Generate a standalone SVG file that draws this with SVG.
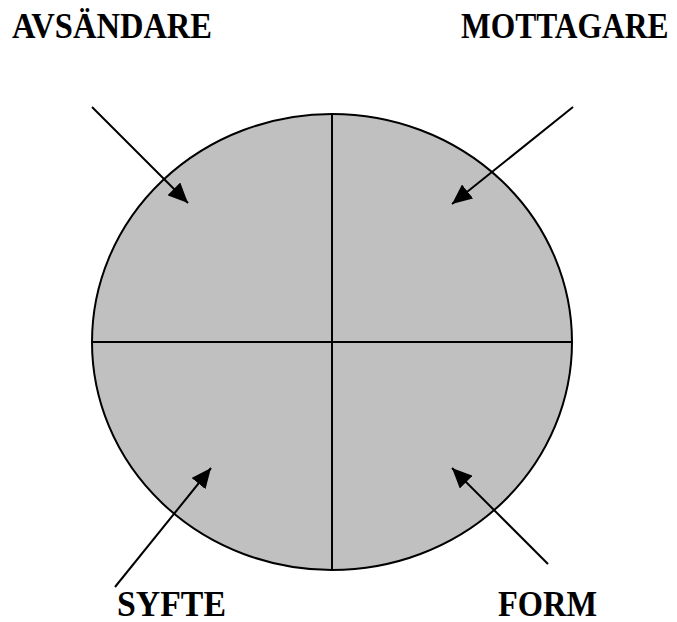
<svg xmlns="http://www.w3.org/2000/svg" width="677" height="622" viewBox="0 0 677 622">
<style>
.lbl{font-family:"Liberation Serif","Times New Roman",serif;font-weight:bold;font-size:35px;fill:#000}
.ln{stroke:#000;stroke-width:2;fill:none}
.arr{stroke:#000;stroke-width:2;fill:none;marker-end:url(#ah)}
</style>
<defs>
<marker id="ah" viewBox="0 0 20 18" refX="20" refY="9" markerWidth="20" markerHeight="18" markerUnits="userSpaceOnUse" orient="auto">
<path d="M0,0 L20,9 L0,18 Z" fill="#000"/>
</marker>
</defs>
<rect width="677" height="622" fill="#fff"/>
<g id="circle">
<ellipse cx="332" cy="342" rx="240" ry="228" fill="#c0c0c0" stroke="#000" stroke-width="2"/>
<line class="ln" x1="332" y1="114" x2="332" y2="570"/>
<line class="ln" x1="92" y1="342" x2="572" y2="342"/>
</g>
<g id="label-avsandare"><text class="lbl" transform="translate(12,38) scale(0.93,1)">AVSÄNDARE</text></g>
<g id="label-mottagare"><text class="lbl" transform="translate(461,38) scale(0.9,1)">MOTTAGARE</text></g>
<g id="label-syfte"><text class="lbl" transform="translate(117,616) scale(0.966,1)">SYFTE</text></g>
<g id="label-form"><text class="lbl" transform="translate(498,616) scale(0.926,1)">FORM</text></g>
<g id="connectors">
<line class="arr" x1="92" y1="107" x2="188" y2="203"/>
<line class="arr" x1="573" y1="107" x2="452" y2="204"/>
<line class="arr" x1="115" y1="587" x2="211" y2="468"/>
<line class="arr" x1="548" y1="564" x2="452" y2="468"/>
</g>
</svg>
